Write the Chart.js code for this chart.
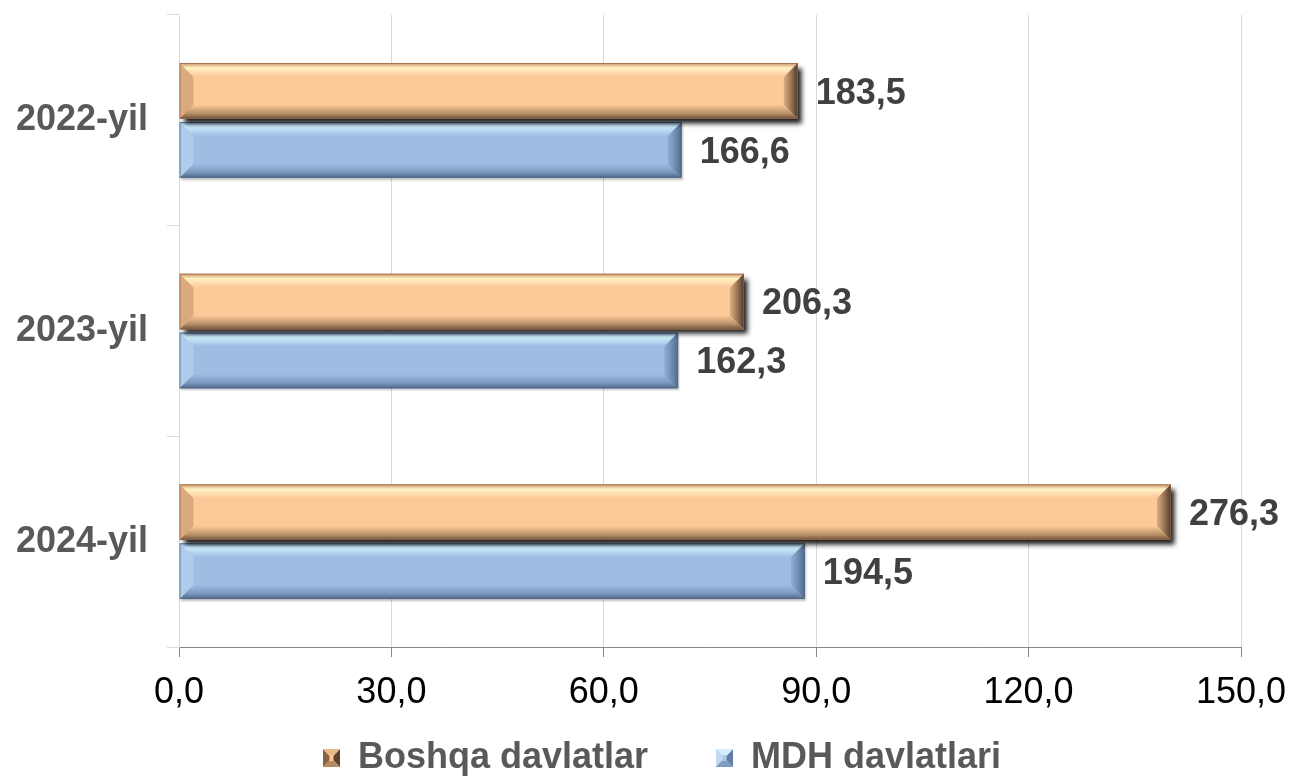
<!DOCTYPE html>
<html>
<head>
<meta charset="utf-8">
<script src="https://cdn.jsdelivr.net/npm/chart.js@4.4.1/dist/chart.umd.min.js"></script>
<style>
  html, body { margin: 0; padding: 0; background: #fff; }
  #wrap { width: 1293px; height: 777px; position: relative; }
</style>
</head>
<body>
<div id="wrap"><canvas id="myChart"></canvas></div>
<script>
// values (bar lengths on the 0-150 axis)
const years = ['2022-yil', '2023-yil', '2024-yil'];
const seriesNames = ['Boshqa davlatlar', 'MDH davlatlari'];
const boshqaBars = [87.4, 79.8, 140.1];
const mdhBars = [71.0, 70.5, 88.4];
// the numbers printed next to the bars
const boshqaLabels = ['183,5', '206,3', '276,3'];
const mdhLabels = ['166,6', '162,3', '194,5'];
const xTicks = ['0,0', '30,0', '60,0', '90,0', '120,0', '150,0'];

const barLabels = [boshqaLabels, mdhLabels];
const FONT = "'Liberation Sans', Arial, sans-serif";

// look of the 3d bars
const shadows = [
  { color: 'rgba(0,0,0,0.9)', dx: 4, dy: 5, blur: 5 },
  { color: 'rgba(0,0,0,0.25)', dx: 1, dy: 2, blur: 2 }
];
const tones = [
  {
    top: [[0, 'rgba(190,130,90,0.7)'], [0.35, 'rgba(255,248,200,0.9)'], [1, 'rgba(255,240,200,0)']],
    bottom: [[0, 'rgba(120,90,60,0)'], [0.6, 'rgba(120,90,60,0.5)'], [1, 'rgba(80,58,40,0.85)']],
    left: 'rgba(140,95,60,0.3)',
    right: [[0, 'rgba(90,60,40,0.2)'], [1, 'rgba(45,30,20,0.85)']],
    edge: 'rgba(150,100,70,0.7)',
    marker: ['#FCC998', '#8a6246', '#5e4230', '#e9b98c', '#b88a63']
  },
  {
    top: [[0, 'rgba(160,195,235,0.6)'], [0.3, 'rgba(215,245,255,0.9)'], [1, 'rgba(215,245,255,0)']],
    bottom: [[0, 'rgba(60,85,120,0)'], [0.6, 'rgba(60,85,120,0.35)'], [1, 'rgba(50,70,100,0.75)']],
    left: 'rgba(220,240,255,0.3)',
    right: [[0, 'rgba(50,75,110,0.12)'], [1, 'rgba(40,60,95,0.65)']],
    edge: 'rgba(80,105,140,0.8)',
    marker: ['#A9C7EC', '#c3d8ef', '#5f7fa6', '#d4ecff', '#7f9cc0']
  }
];

function grad(ctx, x0, y0, x1, y1, stops) {
  const g = ctx.createLinearGradient(x0, y0, x1, y1);
  stops.forEach(s => g.addColorStop(s[0], s[1]));
  return g;
}

function poly(ctx, pts, fill) {
  ctx.beginPath();
  ctx.moveTo(pts[0][0], pts[0][1]);
  for (let i = 1; i < pts.length; i++) ctx.lineTo(pts[i][0], pts[i][1]);
  ctx.closePath();
  ctx.fillStyle = fill;
  ctx.fill();
}

// small bevelled squares for the legend
function makeMarker(c) {
  const w = 17, h = 18;
  const cv = document.createElement('canvas');
  cv.width = w; cv.height = h;
  const m = cv.getContext('2d');
  m.fillStyle = c[0];
  m.fillRect(0, 0, w, h);
  poly(m, [[0, 0], [w / 2, h / 2], [0, h]], c[1]);
  poly(m, [[w, 0], [w / 2, h / 2], [w, h]], c[2]);
  poly(m, [[0, 0], [w, 0], [w / 2, h / 2]], c[3]);
  poly(m, [[0, h], [w, h], [w / 2, h / 2]], c[4]);
  m.fillStyle = c[0];
  m.fillRect(w / 2 - 2, h / 2 - 3, 4, 6);
  return cv;
}
const markers = tones.map(t => makeMarker(t.marker));

const bevelPlugin = {
  id: 'bevel',
  beforeDatasetDraw(chart, args) {
    const ctx = chart.ctx;
    const s = shadows[args.index];
    ctx.save();
    ctx.shadowColor = s.color;
    ctx.shadowOffsetX = s.dx;
    ctx.shadowOffsetY = s.dy;
    ctx.shadowBlur = s.blur;
  },
  afterDatasetDraw(chart, args) {
    const ctx = chart.ctx;
    ctx.restore();
    const tone = tones[args.index];
    args.meta.data.forEach(bar => {
      const p = bar.getProps(['x', 'y', 'base', 'height'], true);
      const l = Math.min(p.base, p.x), r = Math.max(p.base, p.x);
      const t = p.y - p.height / 2, b = p.y + p.height / 2;
      const d = Math.min(14, p.height / 4, (r - l) / 2);
      ctx.save();
      poly(ctx, [[l, t], [r, t], [r - d, t + d], [l + d, t + d]], grad(ctx, 0, t, 0, t + d, tone.top));
      poly(ctx, [[l, b], [r, b], [r - d, b - d], [l + d, b - d]], grad(ctx, 0, b - d, 0, b, tone.bottom));
      poly(ctx, [[l, t], [l + d, t + d], [l + d, b - d], [l, b]], tone.left);
      poly(ctx, [[r, t], [r - d, t + d], [r - d, b - d], [r, b]], grad(ctx, r - d, 0, r, 0, tone.right));
      ctx.strokeStyle = tone.edge;
      ctx.lineWidth = 1;
      ctx.strokeRect(l + 0.5, t + 0.5, r - l - 1, b - t - 1);
      ctx.restore();
    });
  }
};

const valueLabels = {
  id: 'valueLabels',
  afterDatasetsDraw(chart) {
    const ctx = chart.ctx;
    ctx.save();
    ctx.font = 'bold 36px ' + FONT;
    ctx.fillStyle = '#404040';
    ctx.textAlign = 'left';
    ctx.textBaseline = 'middle';
    chart.data.datasets.forEach((ds, i) => {
      chart.getDatasetMeta(i).data.forEach((bar, j) => {
        const p = bar.getProps(['x', 'y'], true);
        ctx.fillText(barLabels[i][j], p.x + 18, p.y + 3);
      });
    });
    ctx.restore();
  }
};

const ctx = document.getElementById('myChart').getContext('2d');
const myChart = new Chart(ctx, {
  type: 'bar',
  data: {
    labels: years,
    datasets: [{
      label: seriesNames[0],
      data: boshqaBars,
      backgroundColor: '#FCC998',
      borderWidth: 0
    }, {
      label: seriesNames[1],
      data: mdhBars,
      backgroundColor: '#9DBDE3',
      borderWidth: 0
    }]
  },
  options: {
    indexAxis: 'y',
    responsive: true,
    maintainAspectRatio: false,
    animation: false,
    categoryPercentage: 0.56,
    barPercentage: 0.945,
    layout: { padding: { left: 0, right: -31, top: 15, bottom: -9 } },
    plugins: {
      tooltip: { enabled: false },
      legend: {
        position: 'bottom',
        labels: {
          font: { family: FONT, size: 36, weight: 'bold' },
          color: '#595959',
          usePointStyle: true,
          boxWidth: 17,
          boxHeight: 18,
          padding: 68,
          generateLabels(chart) {
            const items = Chart.defaults.plugins.legend.labels.generateLabels(chart);
            items.forEach((it, i) => { it.pointStyle = markers[i]; });
            return items;
          }
        }
      }
    },
    scales: {
      x: {
        min: 0,
        max: 150,
        ticks: {
          stepSize: 30,
          font: { family: FONT, size: 36 },
          color: '#000',
          mirror: true,
          padding: -68,
          maxRotation: 0,
          callback: (v, i) => xTicks[i]
        },
        grid: { color: '#d9d9d9', tickColor: '#868686', tickLength: 10 },
        border: { color: '#868686' },
        afterFit(scale) {
          scale.height = 25;
          scale.paddingLeft = 0;
          scale.paddingRight = 52;
        }
      },
      y: {
        ticks: {
          font: { family: FONT, size: 36, weight: 'bold' },
          color: '#595959',
          padding: 19
        },
        grid: { drawOnChartArea: false, color: '#d9d9d9', tickColor: '#d9d9d9', tickLength: 12 },
        border: { color: '#d9d9d9' },
        afterFit(scale) {
          scale.width = 179;
          scale.paddingTop = 0;
          scale.paddingBottom = 0;
        }
      }
    }
  },
  plugins: [bevelPlugin, valueLabels]
});
</script>
</body>
</html>
